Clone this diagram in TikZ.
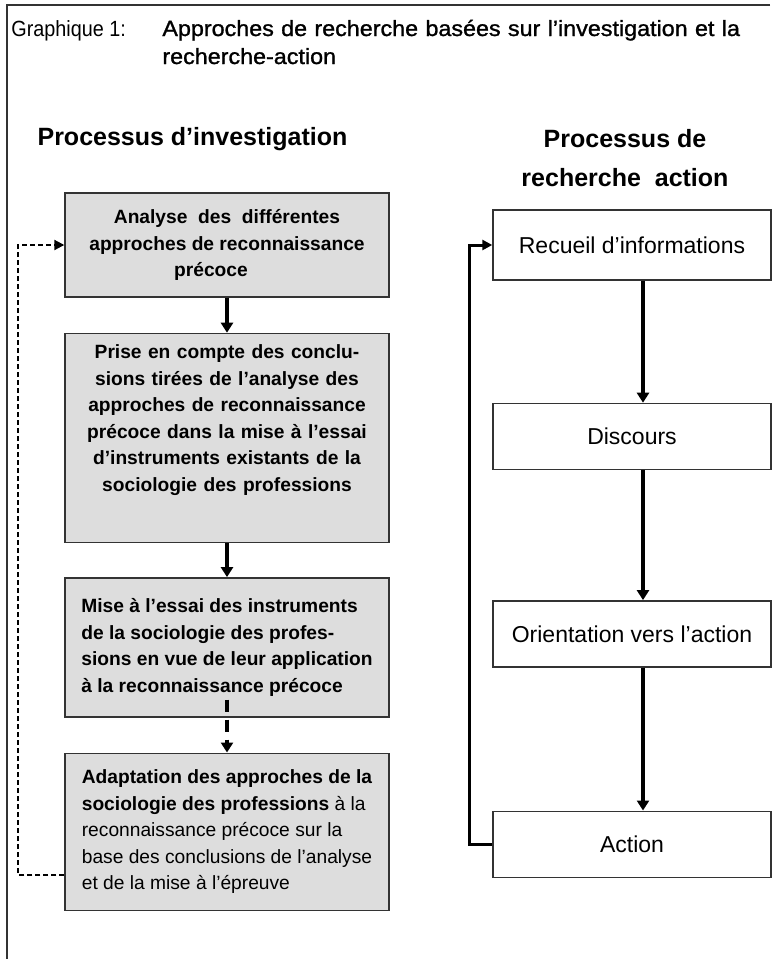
\documentclass[tikz,border=0pt]{standalone}
\usepackage{fontspec}
\setmainfont{Liberation Sans}
\newfontfamily\labelfont[FakeStretch=0.9]{Liberation Sans}
\newfontfamily\titlefont[FakeStretch=1.06,FakeBold=1.2]{Liberation Sans}
\usetikzlibrary{arrows.meta}
\usetikzlibrary{positioning}
\definecolor{boxgrey}{RGB}{221,221,221}
\tikzstyle{greybox} = [
        rectangle, draw=black!80, line width=0.7pt, fill=boxgrey,
        minimum width=162pt, inner xsep=7.5pt, inner ysep=5.5pt,
        font=\fontsize{9.6}{13.3}\selectfont\bfseries
    ]
\tikzstyle{whitebox} = [
        rectangle, draw=black!80, line width=0.7pt, fill=white,
        minimum width=139pt, minimum height=33pt,
        font=\fontsize{11.5}{14}\selectfont
    ]
\tikzstyle{thickline} = [draw, line width=2pt, -{Triangle[length=5pt,width=6pt]}]
\tikzstyle{dashline} = [thickline, dash pattern=on 6pt off 4pt]
\tikzstyle{backline} = [draw, line width=1.5pt, -{Triangle[length=5pt,width=5pt]}]
\tikzstyle{loopline} = [draw, line width=1pt, dash pattern=on 2.5pt off 1.5pt,
        -{Triangle[length=5pt,width=5pt]}]
\tikzstyle{heading} = [align=center, font=\fontsize{12.5}{19.5}\selectfont\bfseries]

\begin{document}
\begin{tikzpicture}
    \useasboundingbox (0,0) rectangle (388.5pt,-479.5pt);
    \draw[black!80, line width=0.7pt] (385pt,-2.5pt) -- (3.5pt,-2.5pt) -- (3.5pt,-479.5pt);

    % title
    \node [anchor=base west, inner sep=0, font=\labelfont\fontsize{11}{14}\selectfont] (graph) at (5.5pt,-18pt) {Graphique 1:};
    \node [anchor=base west, inner sep=0, text width=310pt, align=left,
           font=\titlefont\fontsize{11}{14}\selectfont] (titre) at (81pt,-18pt)
        {Approches de recherche basées sur l’investigation et la\\recherche-action};

    % left column
    \node [heading] (hinv) at (96.25pt,-69.5pt) {Processus d’investigation};
    \node [greybox, align=center, minimum height=52pt] (ana) at (113.5pt,-122.5pt)
        {Analyse\ \ des\ \ différentes\\approches de reconnaissance\\précoce\hspace*{16pt}};
    \node [greybox, align=center, text width=147pt, text height=7pt, text depth=86.5pt,
           below=17.5pt of ana] (prise)
        {Prise en compte des conclu-\\sions tirées de l’analyse des\\approches de reconnaissance\\précoce dans la mise à l’essai\\d’instruments existants de la\\sociologie des professions};
    \node [greybox, align=left, minimum height=69.5pt, below=17pt of prise] (mise)
        {Mise à l’essai des instruments\\de la sociologie des profes-\\sions en vue de leur application\\à la reconnaissance précoce};
    \node [greybox, align=left, minimum height=78.5pt, below=17.5pt of mise] (adapt)
        {Adaptation des approches de la\\sociologie des professions \textmd{à la}\\\textmd{reconnaissance précoce sur la}\\\textmd{base des conclusions de l’analyse}\\\textmd{et de la mise à l’épreuve}};

    \path [thickline] (ana) -- (prise);
    \path [thickline] (prise) -- (mise);
    \path [dashline] ([yshift=9pt]mise.south) -- (adapt.north);
    \path [loopline] ([yshift=-21.75pt]adapt.west) -- ++(-23pt,0) |- (ana.west);

    % right column
    \node [heading] (hra) at (312.5pt,-79.25pt) {Processus de\\recherche\ \ action};
    \node [whitebox, minimum height=35pt] (recueil) at (316pt,-122.5pt) {Recueil d’informations};
    \node [whitebox, below=61pt of recueil] (disc) {Discours};
    \node [whitebox, below=65pt of disc] (orient) {Orientation vers l’action};
    \node [whitebox, below=71.5pt of orient] (act) {Action};

    \path [thickline] ([xshift=5.5pt]recueil.south) -- ([xshift=5.5pt]disc.north);
    \path [thickline] ([xshift=5.5pt]disc.south) -- ([xshift=5.5pt]orient.north);
    \path [thickline] ([xshift=5.5pt]orient.south) -- ([xshift=5.5pt]act.north);
    \path [backline] (act.west) -- ++(-11.5pt,0) |- (recueil.west);
\end{tikzpicture}
\end{document}
